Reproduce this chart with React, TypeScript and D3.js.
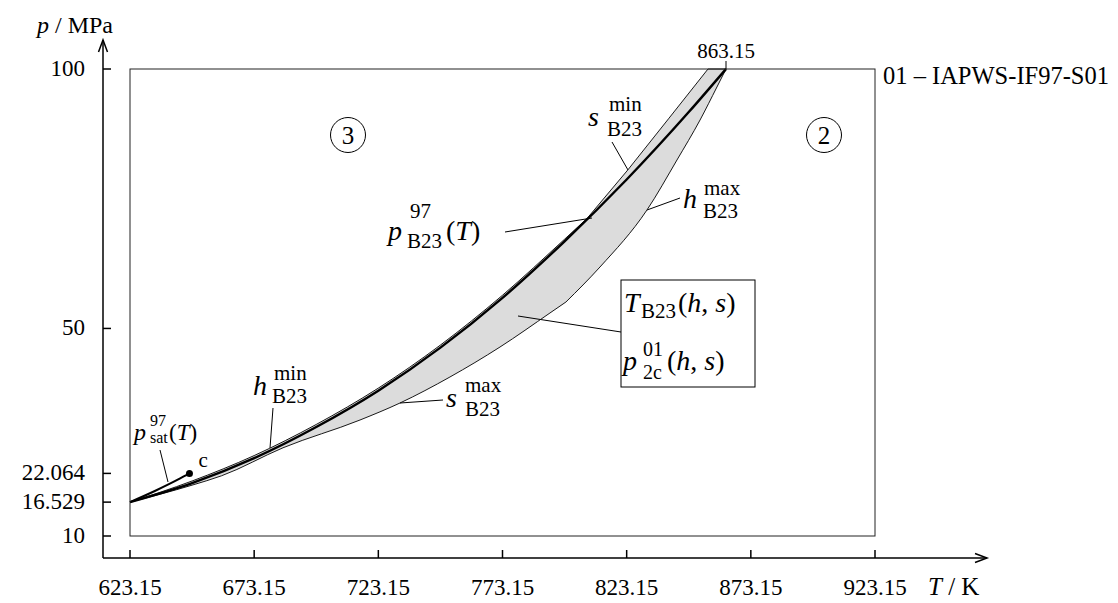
import React from "react";
import * as d3 from "d3";

// ---- data (T in K, p in MPa) ----
const xTicks = [623.15, 673.15, 723.15, 773.15, 823.15, 873.15, 923.15];
const xTickLabels = ["623.15", "673.15", "723.15", "773.15", "823.15", "873.15", "923.15"];
const yTicks = [10, 16.529, 22.064, 50, 100];
const yTickLabels = ["10", "16.529", "22.064", "50", "100"];

// B23 boundary line p_B23(T)
const T_B23 = [623.15, 648.15, 673.15, 698.15, 723.15, 748.15, 773.15, 798.15, 823.15, 848.15, 863.15];
const P_B23 = [16.529, 20.2, 25.0, 31.0, 38.0, 46.3, 55.9, 66.8, 78.7, 91.7, 100];

// upper boundary of gray region: h_min part
const T_HMIN = [623.15, 648.15, 673.15, 698.15, 723.15, 748.15, 773.15, 798.15, 807.2];
const P_HMIN = [16.529, 20.6, 25.5, 31.5, 38.5, 46.8, 56.4, 67.2, 71.2];
// upper boundary: s_min part (then along p = 100)
const T_SMIN = [807.2, 823.7, 840.0, 855.9, 863.15];
const P_SMIN = [71.2, 80.6, 90.4, 100, 100];

// lower boundary: s_max part
const T_SMAX = [623.15, 648.15, 660.0, 684.76, 715.76, 731.87, 751.98, 772.14, 792.27, 798.71];
const P_SMAX = [16.529, 19.8, 21.6, 27.0, 32.35, 35.63, 40.64, 46.42, 52.98, 55.1];
// lower boundary: h_max part
const T_HMAX = [798.71, 812.4, 831.33, 843.4, 852.7, 859.5, 863.15];
const P_HMAX = [55.1, 61.84, 72.83, 82.46, 90.17, 96.53, 100];

// saturation line up to critical point
const T_SAT = [623.15, 633.15, 643.15, 647.096];
const P_SAT = [16.529, 18.67, 21.04, 22.064];

const FONT = "'Liberation Serif', 'Times New Roman', serif";

export default function App() {
  const x = d3.scaleLinear().domain([623.15, 923.15]).range([130, 875]);
  const y = d3.scaleLinear().domain([10, 100]).range([536, 69]);
  const pts = (T: number[], P: number[]) => T.map((t, i) => [x(t), y(P[i])] as [number, number]);
  const mono = d3.line().curve(d3.curveMonotoneX);
  const lin = d3.line();

  const hmin = pts(T_HMIN, P_HMIN);
  const smin = pts(T_SMIN, P_SMIN);
  const smax = pts(T_SMAX, P_SMAX);
  const hmax = pts(T_HMAX, P_HMAX);
  const b23 = pts(T_B23, P_B23);
  const sat = pts(T_SAT, P_SAT);

  const upperPath = (mono(hmin) as string) + (lin(smin) as string).replace(/^M/, "L");
  const lowerPath = (mono(smax) as string) + (mono(hmax) as string).replace(/^M/, "L");

  const x0 = x(623.15), xe = x(863.15), yb = y(10);
  const fillPath =
    upperPath + `L${xe},${yb}L${x0},${yb}Z` + lowerPath + `L${xe},${yb}L${x0},${yb}Z`;

  const axY = 103, axX = 558;
  const tcx = x(647.096), tcy = y(22.064);

  const main = { fontFamily: FONT, fontStyle: "italic" as const, fontSize: 28 };
  const scr = { fontFamily: FONT, fontSize: 21 };

  return (
    <svg width={1118} height={603} style={{ position: "absolute", left: 0, top: 0, background: "#fff" }}>
      {/* gray region */}
      <path d={fillPath} fill="#dcdcdc" fillRule="evenodd" stroke="none" />
      <path d={upperPath} fill="none" stroke="#000" strokeWidth={0.9} />
      <path d={lowerPath} fill="none" stroke="#000" strokeWidth={0.9} />
      {/* B23 line */}
      <path d={mono(b23) as string} fill="none" stroke="#000" strokeWidth={2.4} />
      {/* saturation line */}
      <path d={mono(sat) as string} fill="none" stroke="#000" strokeWidth={2} />
      <circle cx={tcx} cy={tcy} r={3.5} fill="#000" />
      <text x={tcx + 9} y={tcy - 6} fontFamily={FONT} fontSize={21}>c</text>

      {/* frame */}
      <rect x={x(623.15)} y={y(100)} width={x(923.15) - x(623.15)} height={y(10) - y(100)} fill="none" stroke="#222" strokeWidth={1} />

      {/* y axis */}
      <line x1={axY} y1={axX} x2={axY} y2={40} stroke="#000" strokeWidth={1.5} />
      <polyline points={`${axY - 4.5},${52} ${axY},${40} ${axY + 4.5},${52}`} fill="none" stroke="#000" strokeWidth={1.5} />
      {yTicks.map((v, i) => (
        <g key={"yt" + i}>
          <line x1={axY} x2={axY + 8} y1={y(v)} y2={y(v)} stroke="#000" strokeWidth={1.5} />
          <text x={85} y={y(v) + 7} textAnchor="end" fontFamily={FONT} fontSize={23}>{yTickLabels[i]}</text>
        </g>
      ))}
      <text x={37} y={33} fontFamily={FONT} fontSize={24}>
        <tspan fontStyle="italic">p</tspan> / MPa
      </text>

      {/* x axis */}
      <line x1={axY} y1={axX} x2={987} y2={axX} stroke="#000" strokeWidth={1.5} />
      <polyline points={`${975},${axX - 4.5} ${987},${axX} ${975},${axX + 4.5}`} fill="none" stroke="#000" strokeWidth={1.5} />
      {xTicks.map((v, i) => (
        <g key={"xt" + i}>
          <line x1={x(v)} x2={x(v)} y1={axX} y2={axX - 8} stroke="#000" strokeWidth={1.5} />
          <text x={x(v)} y={595} textAnchor="middle" fontFamily={FONT} fontSize={23}>{xTickLabels[i]}</text>
        </g>
      ))}
      <text x={928} y={595} fontFamily={FONT} fontSize={25}>
        <tspan fontStyle="italic">T</tspan> / K
      </text>

      {/* 863.15 marker */}
      <line x1={xe} x2={xe} y1={y(100)} y2={y(100) - 8} stroke="#000" strokeWidth={1} />
      <text x={xe} y={58} textAnchor="middle" fontFamily={FONT} fontSize={21}>863.15</text>

      <text x={883} y={84} fontFamily={FONT} fontSize={24.5}>01 – IAPWS-IF97-S01</text>

      {/* region circles */}
      <circle cx={348} cy={135} r={17.5} fill="none" stroke="#000" strokeWidth={1} />
      <text x={348} y={144} textAnchor="middle" fontFamily={FONT} fontSize={25}>3</text>
      <circle cx={824} cy={135} r={17.5} fill="none" stroke="#000" strokeWidth={1} />
      <text x={824} y={144} textAnchor="middle" fontFamily={FONT} fontSize={25}>2</text>

      {/* s_min label */}
      <text x={588} y={126} {...main}>s</text>
      <text x={609} y={111} {...scr}>min</text>
      <text x={607} y={136} {...scr}>B23</text>
      <line x1={612} y1={142} x2={628} y2={170} stroke="#000" strokeWidth={1} />

      {/* h_max label */}
      <text x={683} y={208} {...main}>h</text>
      <text x={704} y={195} {...scr}>max</text>
      <text x={703} y={218} {...scr}>B23</text>
      <line x1={680} y1={198} x2={647} y2={210} stroke="#000" strokeWidth={1} />

      {/* p_B23^97(T) label */}
      <text x={388} y={240} {...main}>p</text>
      <text x={410} y={218} {...scr}>97</text>
      <text x={407} y={248} {...scr}>B23</text>
      <text x={446} y={240} fontFamily={FONT} fontSize={28}>
        (<tspan fontStyle="italic">T</tspan>)
      </text>
      <line x1={505} y1={232} x2={592} y2={218} stroke="#000" strokeWidth={1} />

      {/* boxed label */}
      <rect x={621} y={280} width={134} height={107} fill="#fff" stroke="#000" strokeWidth={1} />
      <text x={624} y={312} {...main}>T</text>
      <text x={641} y={318} {...scr}>B23</text>
      <text x={678} y={312} fontFamily={FONT} fontSize={28}>
        (<tspan fontStyle="italic">h</tspan>, <tspan fontStyle="italic">s</tspan>)
      </text>
      <text x={623} y={370} {...main}>p</text>
      <text x={643} y={356} fontFamily={FONT} fontSize={20}>01</text>
      <text x={643} y={379} fontFamily={FONT} fontSize={20}>2c</text>
      <text x={667} y={370} fontFamily={FONT} fontSize={28}>
        (<tspan fontStyle="italic">h</tspan>, <tspan fontStyle="italic">s</tspan>)
      </text>
      <line x1={621} y1={332} x2={518} y2={316} stroke="#000" strokeWidth={1} />

      {/* h_min label */}
      <text x={253} y={395} {...main}>h</text>
      <text x={274} y={380} {...scr}>min</text>
      <text x={272} y={403} {...scr}>B23</text>
      <line x1={273} y1={408} x2={270} y2={448} stroke="#000" strokeWidth={1} />

      {/* s_max label */}
      <text x={446} y={407} {...main}>s</text>
      <text x={465} y={392} {...scr}>max</text>
      <text x={465} y={416} {...scr}>B23</text>
      <line x1={443} y1={400} x2={400} y2={403} stroke="#000" strokeWidth={1} />

      {/* p_sat label */}
      <text x={134} y={440} fontFamily={FONT} fontStyle="italic" fontSize={24}>p</text>
      <text x={150} y={426} fontFamily={FONT} fontSize={16}>97</text>
      <text x={150} y={443} fontFamily={FONT} fontSize={16}>sat</text>
      <text x={169} y={440} fontFamily={FONT} fontSize={23}>
        (<tspan fontStyle="italic">T</tspan>)
      </text>
      <line x1={160} y1={450} x2={168} y2={482} stroke="#000" strokeWidth={1} />
    </svg>
  );
}
